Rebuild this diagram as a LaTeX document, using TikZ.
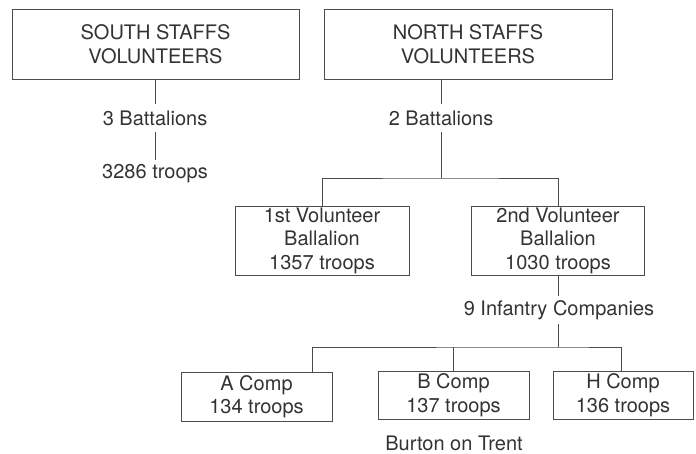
\documentclass[tikz,border=0pt]{standalone}
\usepackage{fontspec}
\setmainfont{TeX Gyre Heros}
\begin{document}
\begin{tikzpicture}[x=1pt,y=-1pt,
  every node/.style={text=black!80, font=\fontsize{20}{23.5}\selectfont, align=center},
  box/.style={draw=black!70, line width=0.9pt, inner sep=0pt},
  lbl/.style={inner sep=2pt, minimum height=28pt},
  conn/.style={draw=black!70, line width=0.9pt}]
\useasboundingbox (0,0) rectangle (696,454);
% top level
\node[box, minimum width=287pt, minimum height=70pt] (south) at (155.5,44) {SOUTH STAFFS\\VOLUNTEERS};
\node[box, minimum width=288pt, minimum height=70pt] (north) at (468,44) {NORTH STAFFS\\VOLUNTEERS};
% south branch
\node[lbl] (bat3) at (155,118) {3 Battalions};
\node[lbl] (troops3) at (155,174) {3286 troops};
% north branch
\node[lbl] (bat2) at (441,118) {2 Battalions};
\coordinate (j1) at (441,178);
\node[box, minimum width=174pt, minimum height=69pt] (b1) at (322,240.5) {1st Volunteer\\Ballalion\\1357 troops};
\node[box, minimum width=173pt, minimum height=69pt] (b2) at (558,240.5) {2nd Volunteer\\Ballalion\\1030 troops};
\node[lbl] (inf) at (559,310) {9 Infantry Companies};
\coordinate (j2) at (558,347);
\node[box, minimum width=151pt, minimum height=49pt] (ca) at (256.5,396.5) {A Comp\\134 troops};
\node[box, minimum width=151pt, minimum height=48pt] (cb) at (453.5,395) {B Comp\\137 troops};
\node[box, minimum width=140pt, minimum height=48pt] (ch) at (623,395) {H Comp\\136 troops};
\node[inner sep=0pt] (burton) at (454,443) {Burton on Trent};
% connectors
\draw[conn] (south.south -| bat3) -- (bat3);
\draw[conn] (bat3) -- (troops3);
\draw[conn] (north.south -| bat2) -- (bat2);
\draw[conn] (bat2) -- (j1);
\draw[conn] (b1.north) |- (j1) -| (b2.north);
\draw[conn] (b2) -- (inf.north -| b2);
\draw[conn] (inf.south -| j2) -- (j2);
\draw[conn] (ca.north -| 312,0) |- (j2) -| (ch.north -| 621,0);
\draw[conn] (cb.north) -- (cb.north |- j2);
\end{tikzpicture}
\end{document}
